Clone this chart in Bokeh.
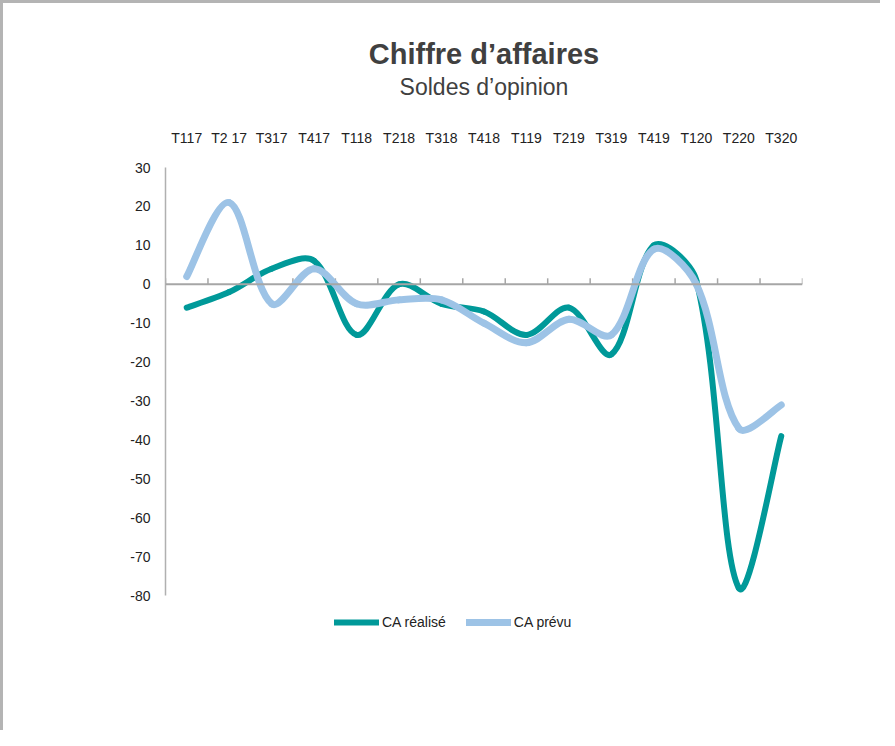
import math
from bokeh.plotting import figure
from bokeh.models import (Range1d, FixedTicker, Title, Legend, LegendItem,
                          ColumnDataSource, Span)
from bokeh.embed import file_html
from bokeh.resources import INLINE

categories = ["T117", "T2 17", "T317", "T417", "T118", "T218", "T318", "T418",
              "T119", "T219", "T319", "T419", "T120", "T220", "T320"]
ca_realise = [-6, -2, 4, 6, -13, 0, -5, -7, -13, -6, -18, 10, 1, -78, -39]
ca_prevu = [2, 21, -5, 4, -5, -4, -4, -10, -15, -9, -13, 9, 0, -37, -31]
y_ticks = [30, 20, 10, 0, -10, -20, -30, -40, -50, -60, -70, -80]

TEAL = "#009999"
BLUE = "#9DC3E6"
AXIS_GREY = "#a6a6a6"
LABEL_FONT = "Liberation Sans"

W, H = 880, 730
MB_L, MB_R, MB_T, MB_B = 162, 81, 164, 91
y_lo, y_hi = min(y_ticks), max(y_ticks)
Y_START = y_lo - 12          # frame extended below the axis so the legend sits inside it
xs = list(range(1, len(categories) + 1))
X_START, X_END = 0.5, len(categories) + 0.5
boundaries = [x - 0.5 for x in xs] + [xs[-1] + 0.5]

# pixel scale of the frame (used to weight the smoothing like a spreadsheet chart)
SX = (W - MB_L - MB_R) / (X_END - X_START)
SY = (H - MB_T - MB_B) / (y_hi - Y_START)


def bezier_segments(x, y, t=1.0 / 3.0):
    n = len(x)
    P = [(xi * SX, yi * SY) for xi, yi in zip(x, y)]

    def dist(a, b):
        return math.hypot(a[0] - b[0], a[1] - b[1])

    out_arm, in_arm = [], []
    for i in range(n):
        if i == 0:
            d = (P[1][0] - P[0][0], P[1][1] - P[0][1])
            out_arm.append((d[0] * t / 2, d[1] * t / 2)); in_arm.append((0, 0))
        elif i == n - 1:
            d = (P[i][0] - P[i - 1][0], P[i][1] - P[i - 1][1])
            in_arm.append((d[0] * t / 2, d[1] * t / 2)); out_arm.append((0, 0))
        else:
            d = (P[i + 1][0] - P[i - 1][0], P[i + 1][1] - P[i - 1][1])
            lp, ln = dist(P[i], P[i - 1]), dist(P[i], P[i + 1])
            fo, fi = t * ln / (lp + ln), t * lp / (lp + ln)
            out_arm.append((d[0] * fo, d[1] * fo)); in_arm.append((d[0] * fi, d[1] * fi))
    seg = dict(x0=[], y0=[], x1=[], y1=[], cx0=[], cy0=[], cx1=[], cy1=[])
    for i in range(n - 1):
        seg["x0"].append(x[i]); seg["y0"].append(y[i])
        seg["x1"].append(x[i + 1]); seg["y1"].append(y[i + 1])
        seg["cx0"].append(x[i] + out_arm[i][0] / SX)
        seg["cy0"].append(y[i] + out_arm[i][1] / SY)
        seg["cx1"].append(x[i + 1] - in_arm[i + 1][0] / SX)
        seg["cy1"].append(y[i + 1] - in_arm[i + 1][1] / SY)
    return ColumnDataSource(seg)


p = figure(width=W, height=H, output_backend="svg", toolbar_location=None,
           x_range=Range1d(X_START, X_END), y_range=Range1d(Y_START, y_hi),
           x_axis_location="above", title=None,
           min_border_left=MB_L, min_border_right=MB_R, min_border_top=MB_T,
           min_border_bottom=MB_B)
p.styles = {"border-left": "3px solid #b4b4b4", "border-top": "3px solid #b4b4b4"}
p.outline_line_color = None
p.grid.visible = False
p.background_fill_color = "white"
p.border_fill_color = "white"

# top axis: category labels, subtitle as its axis label
xa = p.xaxis[0]
xa.ticker = FixedTicker(ticks=xs)
xa.major_label_overrides = {x: c for x, c in zip(xs, categories)}
xa.axis_line_color = None
xa.major_tick_line_color = None
xa.minor_tick_line_color = None
xa.major_label_standoff = 16
xa.major_label_text_font = LABEL_FONT
xa.major_label_text_font_size = "14px"
xa.major_label_text_color = "#222222"
xa.axis_label = "Soldes d’opinion"
xa.axis_label_standoff = 27
xa.axis_label_text_font = "Liberation Sans"
xa.axis_label_text_font_size = "23px"
xa.axis_label_text_font_style = "normal"
xa.axis_label_text_color = "#404040"

# horizontal axis line crossing at zero, with upward ticks at category boundaries
p.add_layout(Span(location=0, dimension="width", line_color=AXIS_GREY, line_width=2))
p.ray(x=boundaries, y=[0] * len(boundaries), length=6, length_units="screen",
      angle=math.pi / 2, line_color=AXIS_GREY, line_width=1.5)

ya = p.yaxis[0]
ya.ticker = FixedTicker(ticks=y_ticks)
ya.bounds = (y_lo, y_hi)
ya.major_label_overrides = {t: str(t) for t in y_ticks}
ya.axis_line_color = "#b0b0b0"
ya.axis_line_width = 1.5
ya.major_tick_line_color = None
ya.minor_tick_line_color = None
ya.major_label_standoff = 9
ya.major_label_text_font = LABEL_FONT
ya.major_label_text_font_size = "14px"
ya.major_label_text_color = "#222222"

p.bezier(source=bezier_segments(xs, ca_realise), x0="x0", y0="y0", x1="x1", y1="y1",
         cx0="cx0", cy0="cy0", cx1="cx1", cy1="cy1",
         line_color=TEAL, line_width=6, line_cap="round")
p.bezier(source=bezier_segments(xs, ca_prevu), x0="x0", y0="y0", x1="x1", y1="y1",
         cx0="cx0", cy0="cy0", cx1="cx1", cy1="cy1",
         line_color=BLUE, line_width=7, line_cap="round")

# legend proxies (a single NaN point, draws nothing in the plot)
nan = float("nan")
r1 = p.line(x=[nan], y=[nan], line_color=TEAL, line_width=6, line_cap="round")
r2 = p.line(x=[nan], y=[nan], line_color=BLUE, line_width=7, line_cap="round")
legend = Legend(items=[LegendItem(label="CA réalisé", renderers=[r1]),
                       LegendItem(label="CA prévu", renderers=[r2])],
                orientation="horizontal", location=(169, 10),
                glyph_width=45, glyph_height=20, label_standoff=3, spacing=20,
                padding=0, margin=0, border_line_color=None, background_fill_alpha=0,
                label_text_font=LABEL_FONT, label_text_font_size="14px",
                label_text_color="#222222")
p.add_layout(legend, "center")

tit = Title(text="Chiffre d’affaires", align="center", text_font="Liberation Sans",
            text_font_size="29px", text_font_style="bold", text_color="#404040", standoff=2)
p.add_layout(tit, "above")

open("out.html", "w").write(file_html(p, INLINE))
